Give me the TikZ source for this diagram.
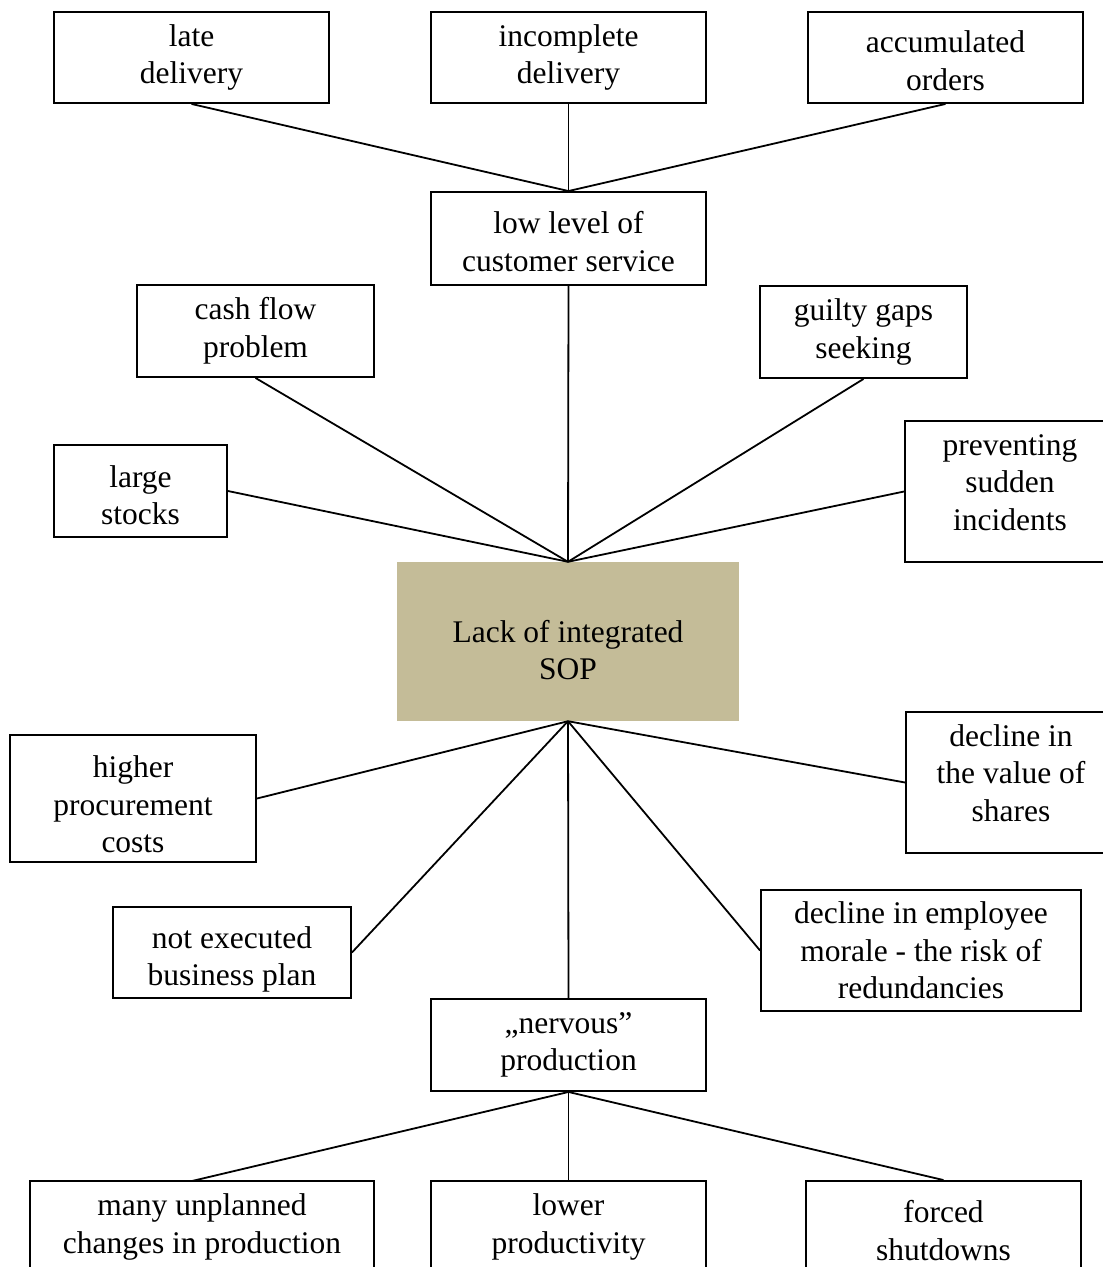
\documentclass[tikz,border=0pt]{standalone}
\usepackage{fontspec}
\setmainfont{Liberation Serif}
\definecolor{sopfill}{RGB}{196,188,152}
% framed box: name, x, y, width, height, text offset (down), text
\newcommand{\framedbox}[7]{%
  \node[box, minimum width=#4, minimum height=#5] (#1) at (#2,#3) {};
  \node[txt] at ([yshift=-#6pt]#1.center) {#7};}
\begin{document}
\begin{tikzpicture}[x=1pt,y=-1pt,
  box/.style={draw, line width=1.9pt, rectangle, inner sep=0pt},
  txt/.style={inner sep=0pt, align=center, font=\fontsize{31.5}{37.5}\selectfont},
  core/.style={fill=sopfill, rectangle, inner sep=0pt},
  link/.style={line width=1.8pt}]
\useasboundingbox (0,0) rectangle (1103,1267);
\clip (0,0) rectangle (1103,1267);

% top row: symptoms of poor customer service
\framedbox{late}{191.5}{57.5}{275}{91}{0}{late\\delivery}
\framedbox{incomplete}{568.5}{57.5}{275}{91}{0}{incomplete\\delivery}
\framedbox{orders}{945.5}{57.5}{275}{91}{3}{accumulated\\orders}
\framedbox{service}{568.5}{238.5}{275}{93}{3}{low level of\\customer service}

% upper effects
\framedbox{cash}{255.5}{331}{237}{92}{0}{cash flow\\problem}
\framedbox{guilty}{863.5}{332}{207}{92}{0}{guilty gaps\\seeking}
\framedbox{stocks}{140.5}{491}{173}{92}{4}{large\\stocks}
\framedbox{prevent}{1010}{491.5}{210}{141}{-9}{preventing\\sudden\\incidents}

% central problem
\node[core, minimum width=342, minimum height=159] (sop) at (568,641.5) {};
\node[txt] at ([yshift=-8.5pt]sop.center) {Lack of integrated\\SOP};

% lower effects
\framedbox{procure}{133}{798.5}{246}{127}{6}{higher\\procurement\\costs}
\framedbox{shares}{1011}{782.5}{210}{141}{-9.5}{decline in\\the value of\\shares}
\framedbox{plan}{232}{952.5}{238}{91}{7}{not executed\\business plan}
\framedbox{morale}{921}{950.5}{320}{121}{0}{decline in employee\\morale - the risk of\\redundancies}
\framedbox{nervous}{568.5}{1045}{275}{92}{0}{„nervous”\\production}

% bottom row: consequences of nervous production
\framedbox{unplanned}{202}{1227}{344}{92}{0}{many unplanned\\changes in production}
\framedbox{productivity}{568.5}{1227}{275}{92}{0}{lower\\productivity}
\framedbox{shutdowns}{943.5}{1227}{275}{92}{3.5}{forced\\shutdowns}

\coordinate (unplannedtop) at (192,1181);

% connectors
\draw[link] (late.south) -- (service.north);
\draw[link] (incomplete.south) -- (service.north);
\draw[link] (orders.south) -- (service.north);
\draw[link] (service.south) -- (sop.north);
\draw[link] (cash.south) -- (sop.north);
\draw[link] (guilty.south) -- (sop.north);
\draw[link] (stocks.east) -- (sop.north);
\draw[link] (prevent.west) -- (sop.north);
\draw[link] (sop.south) -- (procure.east);
\draw[link] (sop.south) -- (plan.east);
\draw[link] (sop.south) -- (nervous.north);
\draw[link] (sop.south) -- (morale.west);
\draw[link] (sop.south) -- (shares.west);
\draw[link] (nervous.south) -- (unplannedtop);
\draw[link] (nervous.south) -- (productivity.north);
\draw[link] (nervous.south) -- (shutdowns.north);
\end{tikzpicture}
\end{document}
